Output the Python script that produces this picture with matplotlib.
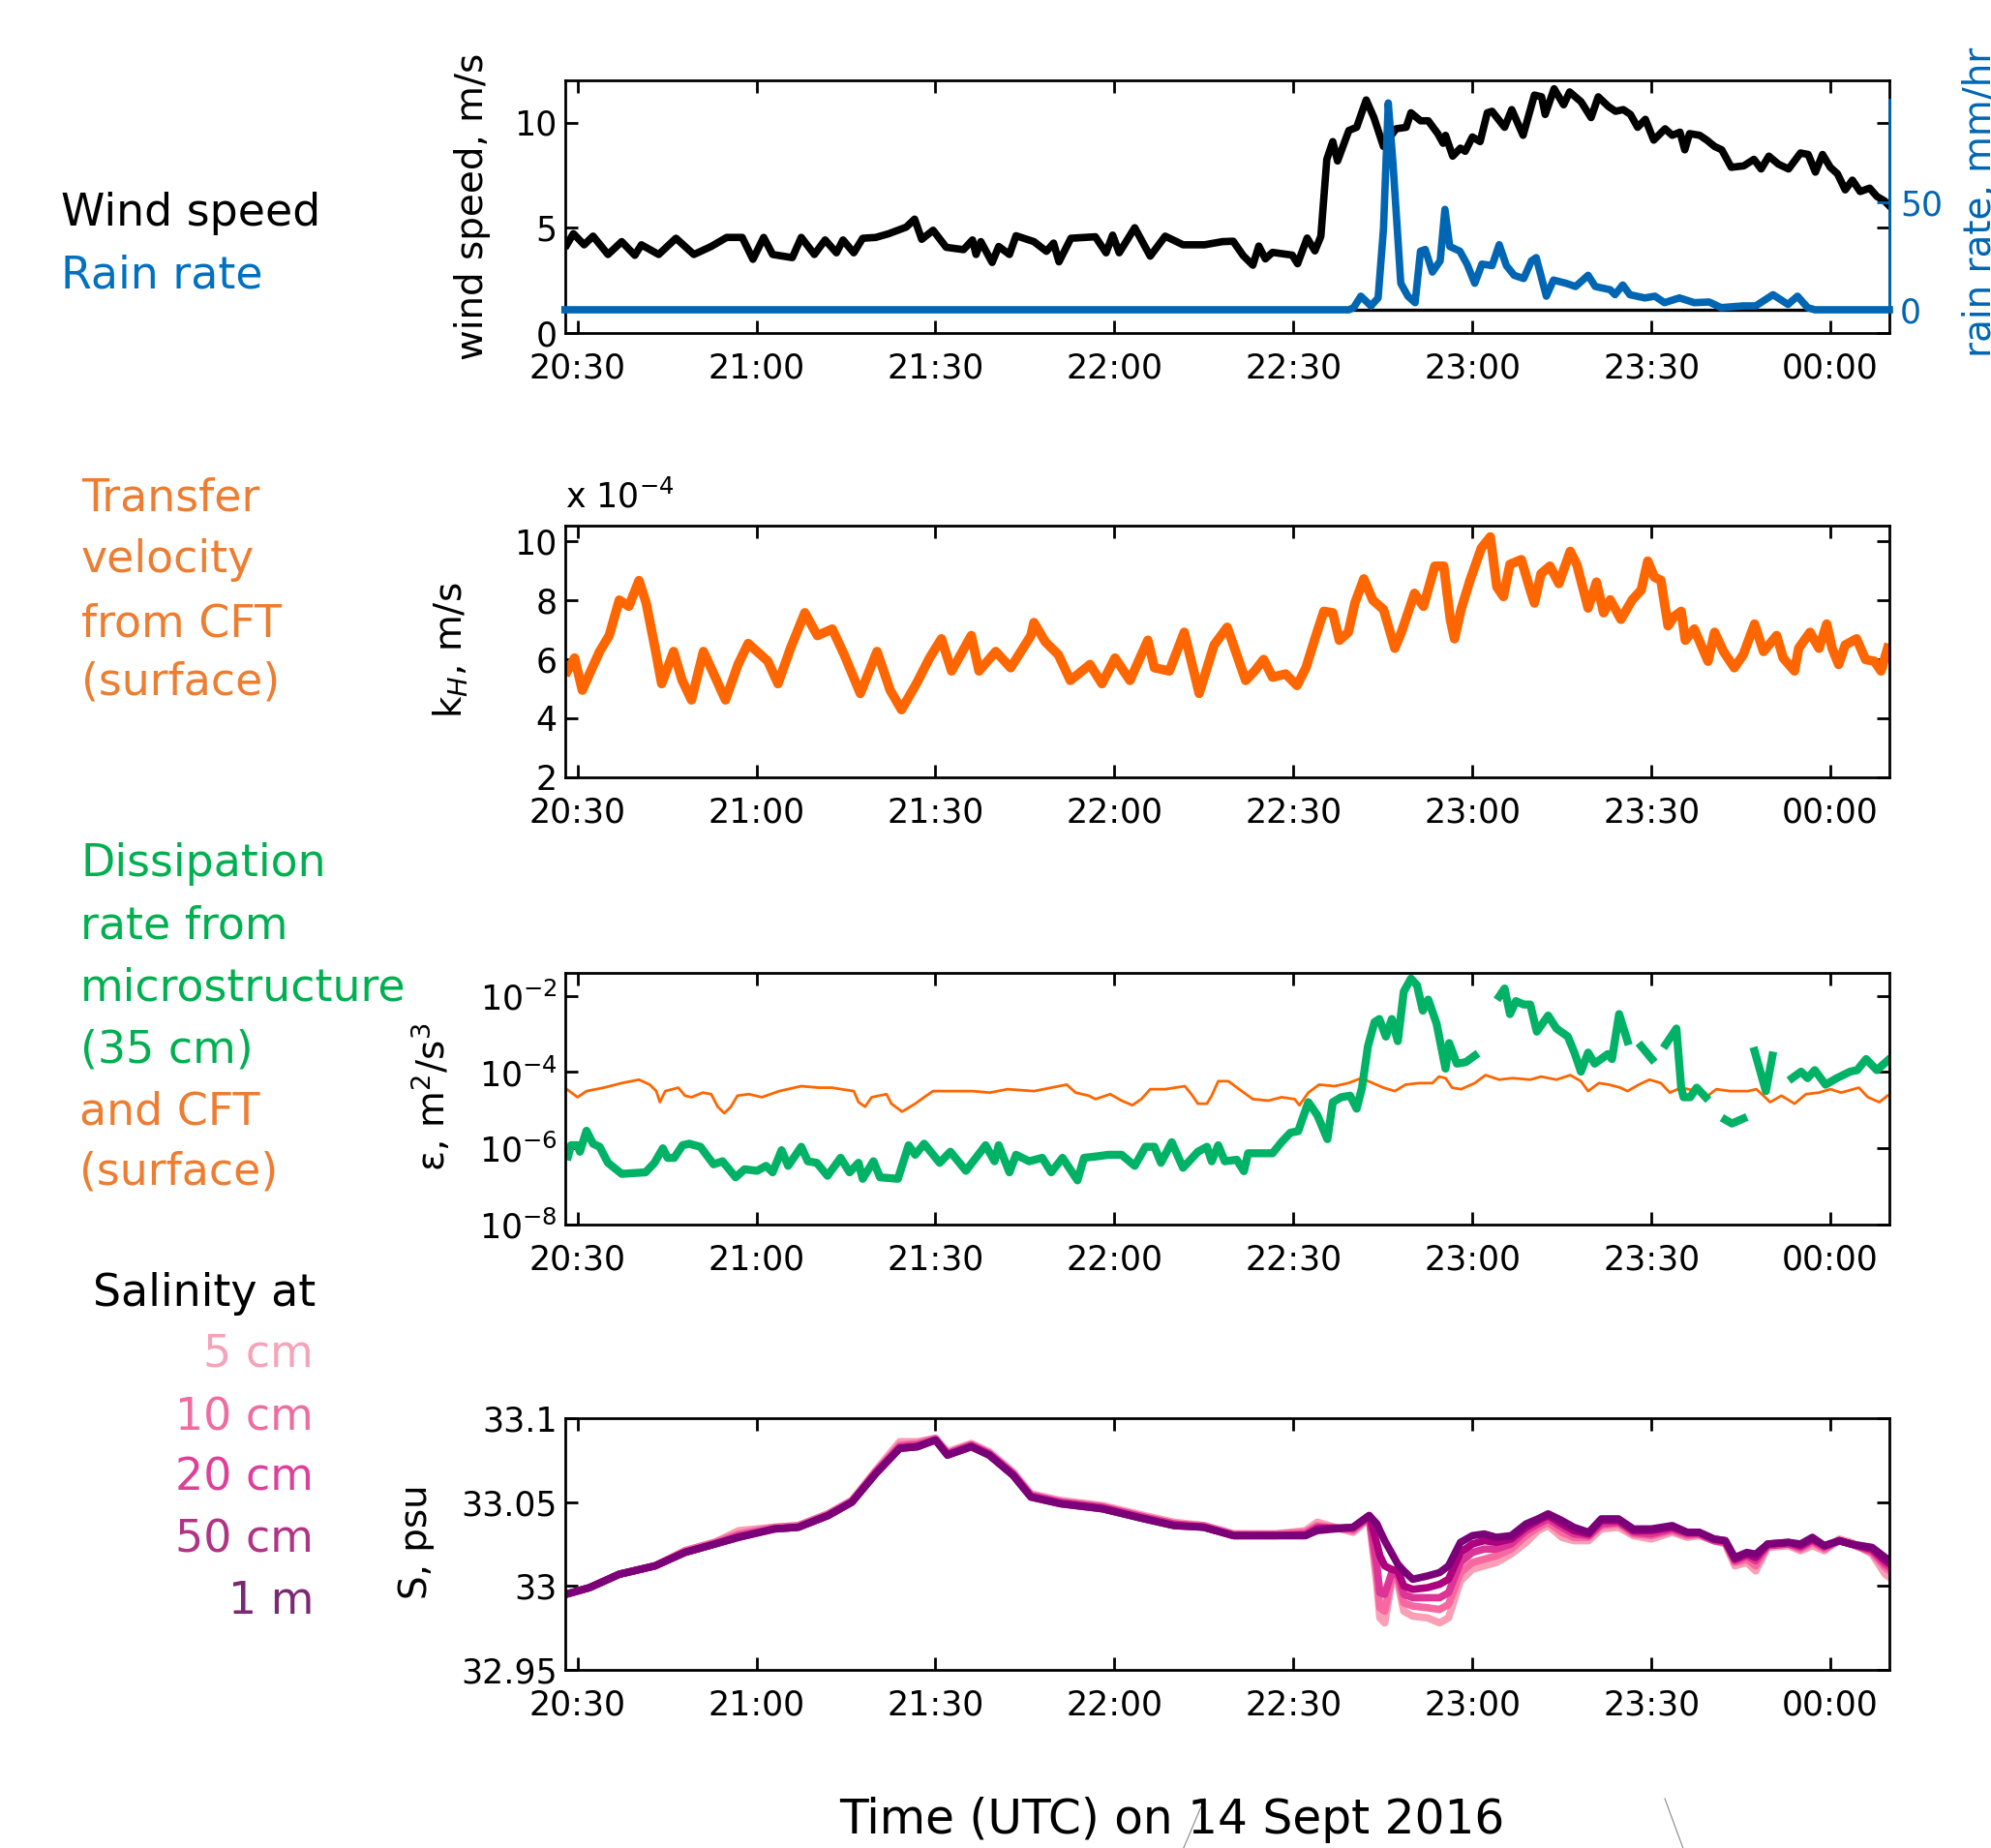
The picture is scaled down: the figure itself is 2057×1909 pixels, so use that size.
import numpy as np
import matplotlib
matplotlib.use('Agg')
import matplotlib.pyplot as plt
from matplotlib.lines import Line2D

plt.rcParams['font.family'] = ['DejaVu Sans']
plt.rcParams['mathtext.fontset'] = 'dejavusans'

# time axis: minutes after 20:00 UTC, 14 Sept 2016
xticks = [30, 60, 90, 120, 150, 180, 210, 240]
xticklabels = ['20:30', '21:00', '21:30', '22:00', '22:30', '23:00', '23:30', '00:00']

# wind speed, m/s
t_wind = [28.2, 29.3, 31.1, 32.6, 35.1, 37.4, 39.6, 40.7, 43.6, 46.5, 49.5, 52.4, 55.0, 57.6, 59.4,
          61.2, 62.7, 66.0, 67.5, 69.7, 71.5, 73.4, 74.5, 76.3, 77.8, 80.0, 82.2, 85.1, 86.5, 87.7,
          89.6, 91.8, 94.7, 96.2, 96.8, 97.6, 99.5, 100.6, 102.4, 103.5, 106.5, 108.6, 109.8, 110.7,
          112.7, 116.8, 118.6, 119.7, 120.8, 123.4, 126.0, 128.5, 131.5, 135.1, 138.1, 139.9, 141.6,
          143.2, 144.2, 145.3, 146.5, 149.8, 150.7, 152.3, 153.6, 154.6, 155.6, 156.6, 157.4, 159.3,
          160.6, 162.2, 163.5, 165.1, 167.2, 168.9, 169.7, 171.3, 172.6, 174.2, 175.1, 175.5, 176.7,
          178.0, 178.8, 180.0, 181.3, 182.5, 183.3, 185.4, 186.6, 188.5, 190.4, 191.6, 192.2, 193.7,
          195.3, 196.3, 198.2, 199.9, 201.1, 202.8, 204.0, 205.3, 206.5, 207.7, 209.0, 210.4, 212.3,
          213.5, 214.8, 215.6, 216.4, 218.1, 219.3, 220.6, 221.8, 223.4, 225.5, 227.2, 228.4, 229.7,
          231.3, 233.0, 235.0, 236.3, 237.5, 238.7, 240.0, 241.2, 242.5, 243.7, 245.0, 246.6, 247.8,
          249.1, 249.9]
wind = [4.19, 4.72, 4.19, 4.6, 3.73, 4.34, 3.69, 4.19, 3.73, 4.5, 3.73, 4.11, 4.54, 4.54, 3.5,
        4.54, 3.73, 3.58, 4.54, 3.73, 4.42, 3.81, 4.42, 3.81, 4.5, 4.54, 4.72, 5.03, 5.41, 4.45,
        4.88, 4.07, 3.96, 4.42, 3.73, 4.34, 3.35, 4.11, 3.73, 4.62, 4.34, 3.88, 4.27, 3.38,
        4.5, 4.57, 3.81, 4.65, 3.81, 5.0, 3.65, 4.6, 4.19, 4.19, 4.34, 4.36, 3.67,
        3.22, 4.13, 3.52, 3.83, 3.7, 3.29, 4.51, 3.9, 4.59, 8.25, 9.09, 8.17, 9.62,
        9.77, 11.07, 10.23, 8.86, 9.7, 9.77, 10.46, 10.08, 10.08, 9.47, 9.01, 9.39, 8.4,
        8.78, 8.63, 9.31, 9.09, 10.46, 10.53, 9.77, 10.61, 9.39, 11.3, 11.22, 10.38, 11.6,
        10.84, 11.45, 10.99, 10.23, 11.22, 10.76, 10.53, 10.61, 10.38, 9.77, 10.15, 9.16, 9.7,
        9.39, 9.54, 8.7, 9.47, 9.39, 9.16, 8.86, 8.7, 7.87, 7.94, 8.25, 7.79, 8.4,
        8.02, 7.79, 8.55, 8.48, 7.64, 8.48, 7.87, 7.56, 6.8, 7.26, 6.72, 6.88, 6.49,
        6.27, 6.04]

# rain rate, mm/hr
t_rain = [27.9, 159.3, 160.1, 161.3, 163.0, 164.2, 165.1, 165.9, 166.7, 168.0, 169.2, 170.4, 171.3,
          172.1, 173.3, 174.6, 175.4, 176.2, 177.9, 179.1, 180.4, 181.6, 183.3, 184.5, 185.7, 187.0,
          188.6, 189.9, 190.7, 192.4, 193.6, 195.7, 197.3, 199.4, 200.6, 203.1, 203.9, 205.2, 206.4,
          208.9, 210.6, 212.2, 214.7, 217.2, 219.7, 221.7, 225.4, 227.5, 230.4, 232.9, 234.5, 236.2,
          237.4, 249.9]
rain = [0, 0, 1, 6.3, 1.8, 5.5, 37.7, 96, 67.6, 12.3, 6.3, 3.3, 27.2,
        28, 17.5, 22.7, 46.6, 29.4, 27.2, 21.2, 12.3, 21.2, 20.5, 30.2, 20.5, 16,
        14.5, 22.7, 24.2, 6.3, 13.8, 12.3, 10.8, 16, 10.8, 9.3, 7, 11.5, 7,
        5.5, 6.3, 3.3, 5.5, 3.3, 3.6, 1, 1.8, 1.8, 7, 2.5, 6.3, 1,
        0, 0]

# transfer velocity kH from CFT, units of 1e-4 m/s
t_kh = [28.3, 29.5, 30.8, 32.0, 33.7, 35.3, 37.0, 38.6, 40.3, 41.5, 43.1, 44.1, 46.1, 47.5, 49.1,
        51.1, 53.1, 54.8, 56.9, 58.6, 61.9, 63.6, 65.7, 68.1, 70.2, 72.7, 74.7, 77.4, 80.2, 82.4,
        84.3, 86.8, 89.0, 91.0, 92.7, 96.0, 97.3, 100.1, 102.6, 106.0, 106.5, 108.4, 110.6, 112.6,
        115.9, 117.9, 120.1, 122.6, 125.6, 126.7, 129.2, 131.7, 134.2, 136.7, 138.9, 140.5, 142.0,
        143.5, 145.0, 146.5, 148.7, 150.6, 152.1, 153.6, 155.1, 156.6, 157.7, 159.2, 160.3, 161.8,
        163.3, 165.1, 167.0, 168.1, 170.3, 171.8, 173.7, 175.2, 176.3, 177.0, 178.1, 179.6, 181.5,
        183.0, 184.1, 185.2, 186.3, 188.2, 189.7, 190.4, 191.5, 193.0, 194.5, 196.4, 197.5, 199.4,
        200.8, 202.0, 203.1, 204.9, 206.8, 208.3, 209.4, 210.5, 211.6, 212.8, 213.9, 215.0, 215.7,
        217.2, 219.5, 220.6, 222.1, 223.9, 225.4, 227.3, 228.8, 231.0, 232.1, 234.0, 234.7, 236.6,
        238.1, 239.4, 240.3, 241.4, 242.5, 244.4, 245.9, 247.4, 248.5, 249.6]
kh = [5.6, 6.04, 4.95, 5.5, 6.26, 6.8, 8.0, 7.79, 8.66, 7.9, 6.26, 5.17, 6.26, 5.3, 4.62,
      6.26, 5.38, 4.62, 5.82, 6.53, 5.93, 5.17, 6.37, 7.57, 6.8, 7.02, 6.15, 4.84, 6.26, 4.95,
      4.29, 5.17, 6.04, 6.69, 5.6, 6.8, 5.6, 6.26, 5.71, 6.8, 7.24, 6.59, 6.15, 5.28,
      5.82, 5.17, 6.04, 5.28, 6.64, 5.71, 5.6, 6.91, 4.84, 6.48, 7.08, 6.15, 5.28,
      5.6, 5.99, 5.39, 5.5, 5.11, 5.71, 6.69, 7.62, 7.57, 6.64, 6.91, 7.9, 8.72,
      8.0, 7.68, 6.37, 6.91, 8.23, 7.79, 9.15, 9.15, 7.35, 6.69, 7.68, 8.67, 9.76,
      10.14, 8.45, 8.12, 9.21, 9.37, 8.34, 7.9, 8.89, 9.15, 8.56, 9.65, 9.21, 7.73,
      8.61, 7.57, 8.01, 7.35, 8.01, 8.34, 9.32, 8.78, 8.67, 7.13, 7.46, 7.62, 6.64,
      7.02, 5.93, 6.91, 6.26, 5.71, 6.15, 7.19, 6.26, 6.8, 6.04, 5.6, 6.37, 6.91,
      6.37, 7.19, 6.37, 5.82, 6.48, 6.69, 5.99, 5.93, 5.6, 6.37]

# dissipation rate, log10(m^2/s^3); nan = no data
t_eps_micro = [28.4, 28.9, 30.0, 30.4, 31.5, 32.6, 33.7, 35.1, 37.4, 41.4, 42.9, 44.3, 45.1, 46.2,
               47.6, 48.7, 50.6, 52.8, 54.3, 56.5, 58.0, 60.1, 61.6, 62.7, 64.2, 65.3, 67.5, 68.6,
               70.1, 71.9, 74.1, 75.6, 77.1, 77.8, 79.6, 80.7, 83.7, 85.5, 86.6, 88.1, 90.7, 92.5,
               95.1, 98.4, 99.9, 100.6, 102.4, 103.5, 105.7, 107.9, 109.4, 111.3, 113.8, 114.9,
               117.1, 119.0, 121.2, 123.4, 125.2, 126.7, 127.8, 129.6, 131.5, 134.0, 135.5, 136.3,
               137.4, 138.5, 140.5, 141.7, 142.4, 146.5, 148.0, 149.5, 150.8, 152.5, 154.0, 155.7,
               156.6, 158.0, 159.5, 160.6, 161.5, 162.5, 163.6, 164.4, 165.5, 166.5, 167.5, 168.5,
               169.7, 170.7, 171.7, 172.6, 174.0, 175.5, 176.1, 177.4, 178.9, 180.4, 182.5, 184.5,
               185.4, 186.3, 187.3, 188.6, 189.7, 190.8, 192.7, 194.1, 196.0, 197.1, 198.2, 199.4,
               200.5, 202.7, 203.4, 204.6, 206.0, 207.1, 208.3, 210.1, 211.2, 212.4, 214.2, 215.0,
               215.4, 216.5, 217.6, 219.1, 220.5, 222.4, 223.5, 225.4, 226.3, 227.3, 229.2, 230.3,
               232.0, 233.6, 235.1, 236.2, 237.4, 239.2, 241.1, 243.3, 244.5, 246.0, 247.8, 249.6]
eps_micro_log = [-6.21, -5.92, -5.92, -6.09, -5.54, -5.88, -5.96, -6.38, -6.67, -6.63, -6.38, -6.0, -6.25, -6.25,
                 -5.92, -5.88, -5.96, -6.42, -6.34, -6.76, -6.55, -6.59, -6.46, -6.63, -6.05, -6.46, -5.96, -6.34,
                 -6.38, -6.72, -6.25, -6.63, -6.38, -6.8, -6.34, -6.76, -6.8, -5.92, -6.17, -5.88, -6.38, -6.09,
                 -6.59, -5.92, -6.34, -5.92, -6.63, -6.17, -6.34, -6.25, -6.63, -6.25, -6.84, -6.25,
                 -6.21, -6.17, -6.17, -6.46, -5.96, -5.96, -6.38, -5.84, -6.51, -6.09, -5.96, -6.34,
                 -5.92, -6.34, -6.3, -6.6, -6.13, -6.13, -5.84, -5.59, -5.55, -4.79, -5.13, -5.76,
                 -4.79, -4.66, -4.62, -4.96, -4.41, -3.32, -2.69, -2.61, -3.07, -2.61, -3.19, -1.89,
                 -1.55, -1.72, -2.39, -2.1, -2.73, -3.91, -3.24, -3.78, -3.74, -3.57, np.nan, -2.02,
                 -1.81, -2.48, -2.14, -2.23, -2.23, -2.94, -2.52, -2.86, -3.07, -3.49, -3.99, -3.49,
                 -3.78, -3.53, -3.66, -2.48, -3.19, np.nan, -3.32, -3.66, np.nan, -3.28, -2.86, -4.41,
                 -4.66, -4.66, -4.41, -4.66, np.nan, -5.25, -5.35, -5.22, np.nan, -3.45, -4.5, -3.57,
                 np.nan, -4.16, -3.99, -4.16, -3.95, -4.33, -4.16, -3.99, -3.95, -3.66, -3.95, -3.7]

t_eps_cft = [28.2, 30.0, 31.5, 34.4, 37.4, 40.3, 42.1, 43.2, 43.8, 44.7, 46.9, 48.0, 49.1, 51.0, 52.4,
             53.5, 54.6, 55.7, 56.8, 58.7, 60.9, 63.8, 67.5, 70.4, 72.6, 76.3, 77.1, 78.2, 79.3, 81.8,
             82.6, 84.4, 86.6, 88.1, 89.6, 91.8, 96.2, 99.1, 102.1, 106.5, 109.4, 112.0, 113.5, 115.7,
             116.8, 119.3, 121.2, 123.0, 124.5, 126.0, 128.5, 131.8, 132.9, 134.0, 135.5, 136.3, 137.4,
             139.1, 140.9, 143.2, 145.8, 148.0, 150.2, 151.0, 152.5, 154.3, 156.9, 159.2, 161.4, 163.3,
             165.1, 167.0, 168.8, 171.1, 173.3, 174.4, 175.5, 176.6, 178.1, 180.4, 182.2, 184.5, 186.7,
             189.7, 191.5, 194.1, 196.4, 198.2, 199.4, 201.2, 202.9, 204.8, 206.0, 207.9, 209.7, 211.6,
             213.1, 215.0, 217.6, 219.5, 220.9, 223.2, 226.2, 227.6, 228.8, 229.9, 231.8, 234.0, 235.9,
             238.1, 240.0, 241.8, 244.8, 246.3, 248.2, 249.6]
eps_cft_log = [-4.45, -4.66, -4.5, -4.41, -4.29, -4.2, -4.33, -4.5, -4.79, -4.5, -4.41, -4.62, -4.66, -4.54, -4.58,
               -4.91, -5.08, -4.91, -4.62, -4.58, -4.66, -4.5, -4.37, -4.41, -4.41, -4.5, -4.79, -4.91, -4.66, -4.58,
               -4.83, -5.04, -4.83, -4.66, -4.5, -4.5, -4.5, -4.54, -4.45, -4.5, -4.41, -4.33, -4.54, -4.62,
               -4.71, -4.58, -4.75, -4.87, -4.71, -4.45, -4.45, -4.37, -4.58, -4.83, -4.83, -4.62, -4.24,
               -4.24, -4.45, -4.71, -4.75, -4.66, -4.71, -4.87, -4.54, -4.33, -4.37, -4.29, -4.16, -4.29,
               -4.41, -4.5, -4.33, -4.29, -4.29, -4.12, -4.16, -4.41, -4.45, -4.29, -4.08, -4.2, -4.16,
               -4.2, -4.12, -4.2, -4.08, -4.24, -4.5, -4.29, -4.33, -4.41, -4.5, -4.33, -4.2, -4.29,
               -4.54, -4.41, -4.5, -4.62, -4.45, -4.5, -4.5, -4.45, -4.62, -4.79, -4.62, -4.83, -4.58,
               -4.54, -4.45, -4.54, -4.41, -4.66, -4.79, -4.62]

# salinity, psu
t_sal = [28, 32, 37, 43, 48, 53, 57, 63, 67, 72, 76, 80, 84, 87, 90, 92, 96, 99, 103, 106,
         111, 118, 125, 130, 135, 140, 147, 152, 154, 160, 162.7, 164, 164.5, 165.3, 166.4, 167.5,
         168.5, 170, 172.5, 174.5, 176, 178, 180, 182, 184, 186.5, 189, 191, 192.7, 195, 197,
         199.5, 201.6, 204.5, 207, 210, 213.5, 216, 218, 220.5, 222.4, 224, 226, 227.5, 229.5,
         233, 235, 237, 239, 241.5, 243.5, 247, 249.2, 250]
sal_5cm = [32.995, 32.999, 33.007, 33.012, 33.021, 33.026, 33.033, 33.035, 33.036, 33.043,
           33.051, 33.069, 33.086, 33.086, 33.088, 33.080, 33.085, 33.080, 33.068, 33.055,
           33.051, 33.048, 33.042, 33.038, 33.036, 33.031, 33.031, 33.033, 33.038, 33.032,
           33.040, 33.000, 32.981, 32.978, 33.001, 33.002, 32.985, 32.982, 32.981, 32.978,
           32.981, 33.003, 33.010, 33.012, 33.014, 33.019, 33.026, 33.033, 33.036, 33.029,
           33.027, 33.027, 33.034, 33.035, 33.030, 33.028, 33.032, 33.029, 33.030, 33.027,
           33.025, 33.012, 33.014, 33.009, 33.023, 33.024, 33.021, 33.024, 33.021, 33.028,
           33.026, 33.019, 33.007, 33.005]
sal_10cm = [32.995, 32.999, 33.007, 33.012, 33.021, 33.026, 33.031, 33.035, 33.036, 33.043,
            33.051, 33.068, 33.084, 33.085, 33.088, 33.079, 33.084, 33.079, 33.067, 33.054,
            33.050, 33.047, 33.041, 33.037, 33.036, 33.031, 33.031, 33.032, 33.036, 33.033,
            33.041, 33.006, 32.987, 32.985, 33.004, 33.004, 32.990, 32.988, 32.987, 32.986,
            32.989, 33.008, 33.014, 33.016, 33.018, 33.022, 33.030, 33.035, 33.038, 33.032,
            33.029, 33.029, 33.036, 33.037, 33.031, 33.030, 33.033, 33.030, 33.031, 33.027,
            33.026, 33.014, 33.016, 33.012, 33.024, 33.025, 33.022, 33.026, 33.022, 33.027,
            33.025, 33.020, 33.011, 33.009]
sal_20cm = [32.995, 32.999, 33.007, 33.012, 33.020, 33.025, 33.030, 33.034, 33.035, 33.042,
            33.050, 33.068, 33.083, 33.084, 33.087, 33.079, 33.084, 33.079, 33.067, 33.054,
            33.050, 33.047, 33.041, 33.037, 33.035, 33.030, 33.030, 33.031, 33.035, 33.034,
            33.041, 33.012, 32.996, 32.995, 33.007, 33.007, 32.995, 32.993, 32.993, 32.993,
            32.996, 33.014, 33.020, 33.022, 33.022, 33.025, 33.033, 33.037, 33.040, 33.035,
            33.031, 33.030, 33.037, 33.038, 33.032, 33.031, 33.034, 33.031, 33.031, 33.027,
            33.026, 33.015, 33.018, 33.015, 33.024, 33.025, 33.023, 33.027, 33.023, 33.027,
            33.025, 33.021, 33.013, 33.011]
sal_50cm = [32.995, 32.999, 33.007, 33.012, 33.020, 33.025, 33.029, 33.034, 33.035, 33.042,
            33.050, 33.067, 33.082, 33.083, 33.087, 33.078, 33.083, 33.078, 33.066, 33.053,
            33.049, 33.046, 33.040, 33.036, 33.035, 33.030, 33.030, 33.030, 33.034, 33.035,
            33.042, 33.025, 33.018, 33.012, 33.010, 33.009, 33.000, 32.998, 32.999, 33.001,
            33.004, 33.020, 33.025, 33.027, 33.026, 33.028, 33.035, 33.039, 33.042, 33.037,
            33.033, 33.031, 33.039, 33.039, 33.033, 33.033, 33.035, 33.032, 33.032, 33.028,
            33.027, 33.016, 33.019, 33.017, 33.025, 33.026, 33.024, 33.028, 33.024, 33.027,
            33.025, 33.022, 33.015, 33.013]
sal_1m = [32.995, 32.999, 33.007, 33.012, 33.020, 33.025, 33.029, 33.034, 33.035, 33.042,
          33.050, 33.067, 33.082, 33.083, 33.087, 33.078, 33.083, 33.078, 33.066, 33.053,
          33.049, 33.046, 33.040, 33.036, 33.035, 33.030, 33.030, 33.030, 33.033, 33.035,
          33.042, 33.037, 33.033, 33.027, 33.020, 33.013, 33.009, 33.004, 33.006, 33.008,
          33.012, 33.026, 33.030, 33.031, 33.029, 33.030, 33.037, 33.040, 33.043, 33.039,
          33.035, 33.032, 33.040, 33.040, 33.034, 33.034, 33.036, 33.032, 33.032, 33.028,
          33.027, 33.017, 33.020, 33.019, 33.025, 33.026, 33.025, 33.029, 33.024, 33.027,
          33.025, 33.023, 33.017, 33.015]
sal_series = [sal_5cm, sal_10cm, sal_20cm, sal_50cm, sal_1m]
sal_colors = ['#fa9fb5', '#f768a1', '#dd3497', '#ae017e', '#7a0177']

blue = '#0066B3'
orange = '#FF6600'
green = '#00B265'

W, H = 2057, 1909
fig = plt.figure(figsize=(W / 100, H / 100), dpi=100)


def box(top, bottom):
    # axes from pixel rows of the figure
    return [584 / W, 1 - bottom / H, 1368 / W, (bottom - top) / H]


def style(ax):
    ax.set_xlim(27.94, 249.9)
    ax.set_xticks(xticks)
    ax.set_xticklabels(xticklabels)
    ax.minorticks_off()
    ax.tick_params(direction='in', length=9.5, width=2, labelsize=25,
                   top=True, right=True)
    ax.tick_params(axis='x', pad=14)
    ax.tick_params(axis='y', pad=6)
    for s in ax.spines.values():
        s.set_linewidth(2)


# panel 1: wind and rain
ax1 = fig.add_axes(box(83, 344))
ax1.plot(t_wind, wind, color='black', lw=5.5)
ax1.set_ylim(0, 12)
ax1.set_yticks([0, 5, 10])
style(ax1)

axr = fig.add_axes([584 / W, 1 - 320 / H, 1368 / W, 217 / H])
axr.patch.set_visible(False)
axr.plot(t_rain, rain, color=blue, lw=5.5, zorder=3, clip_on=False)
axr.set_xlim(27.94, 249.9)
axr.set_ylim(0, 97.5)
for k in ['top', 'left']:
    axr.spines[k].set_visible(False)
axr.spines['bottom'].set_color('black')
axr.spines['bottom'].set_linewidth(2.4)
axr.spines['right'].set_color(blue)
axr.spines['right'].set_linewidth(2)
axr.set_xticks([])
axr.yaxis.tick_right()
axr.set_yticks([0, 50])
axr.tick_params(axis='y', direction='in', length=9.5, width=2, colors=blue,
                labelsize=25, pad=8)

fig.text(488 / W, 1 - 213 / H, 'wind speed, m/s', rotation=90, fontsize=28,
         ha='center', va='center')
fig.text(2027 / W, 1 - 209 / H, 'rain rate, mm/hr', rotation=90, fontsize=28,
         ha='left', va='center', color=blue)

# panel 2: transfer velocity
ax2 = fig.add_axes(box(543, 803))
ax2.plot(t_kh, kh, color=orange, lw=7)
ax2.set_ylim(2, 10.52)
ax2.set_yticks([2, 4, 6, 8, 10])
style(ax2)
ax2.text(0, 1.073, r'x 10$^{-4}$', transform=ax2.transAxes, fontsize=25,
         ha='left', va='baseline')
fig.text(466 / W, 1 - 672 / H, r'k$_H$, m/s', rotation=90, fontsize=28,
         ha='center', va='center')

# panel 3: dissipation rate
ax3 = fig.add_axes(box(1005, 1265))
ax3.plot(t_eps_cft, 10 ** np.array(eps_cft_log), color=orange, lw=2)
ax3.plot(t_eps_micro, 10 ** np.array(eps_micro_log), color=green, lw=6)
ax3.set_yscale('log')
ax3.set_ylim(1e-8, 10 ** -1.4)
ax3.set_yticks([1e-8, 1e-6, 1e-4, 1e-2])
style(ax3)
fig.text(446 / W, 1 - 1133 / H, 'ε, m$^2$/s$^3$', rotation=90, fontsize=28,
         ha='center', va='center')

# panel 4: salinity
ax4 = fig.add_axes(box(1465, 1725))
for s, c in zip(sal_series, sal_colors):
    ax4.plot(t_sal, s, color=c, lw=5.5)
ax4.set_ylim(32.95, 33.1)
ax4.set_yticks([32.95, 33.0, 33.05, 33.1])
ax4.set_yticklabels(['32.95', '33', '33.05', '33.1'])
style(ax4)
fig.text(430 / W, 1 - 1593 / H, 'S, psu', rotation=90, fontsize=28,
         ha='center', va='center')

fig.text(1211 / W, 1 - 1880 / H, 'Time (UTC) on 14 Sept 2016', fontsize=35,
         ha='center', va='center')

# stray guide strokes at the bottom
for xs, ys in [((1244.5, 1222.8), (1858, 1909)), ((1720, 1738.8), (1858, 1909))]:
    fig.add_artist(Line2D([x / W for x in xs], [1 - y / H for y in ys],
                          color='#888888', lw=0.8))

# side captions
captions = [
    ('Wind speed', 63, 233, 'black', 'left'),
    ('Rain rate', 63, 298, '#0070C0', 'left'),
    ('Transfer', 84, 527, '#ED7D31', 'left'),
    ('velocity', 84, 591, '#ED7D31', 'left'),
    ('from CFT', 84, 657, '#ED7D31', 'left'),
    ('(surface)', 84, 718, '#ED7D31', 'left'),
    ('Dissipation', 83, 905, '#00B050', 'left'),
    ('rate from', 83, 969, '#00B050', 'left'),
    ('microstructure', 83, 1033, '#00B050', 'left'),
    ('(35 cm)', 83, 1097, '#00B050', 'left'),
    ('and CFT', 82, 1162, '#ED7D31', 'left'),
    ('(surface)', 82, 1224, '#ED7D31', 'left'),
    ('Salinity at', 96, 1349, 'black', 'left'),
    ('5 cm', 324, 1412, '#F4A3B8', 'right'),
    ('10 cm', 324, 1477, '#EE6CA0', 'right'),
    ('20 cm', 324, 1540, '#DF3F99', 'right'),
    ('50 cm', 324, 1604, '#B13384', 'right'),
    ('1 m', 324, 1667, '#7B2877', 'right'),
]
for txt, x, y, c, ha in captions:
    fig.text(x / W, 1 - y / H, txt, color=c, fontsize=33, ha=ha, va='baseline')

plt.savefig('out.png', dpi=100)
